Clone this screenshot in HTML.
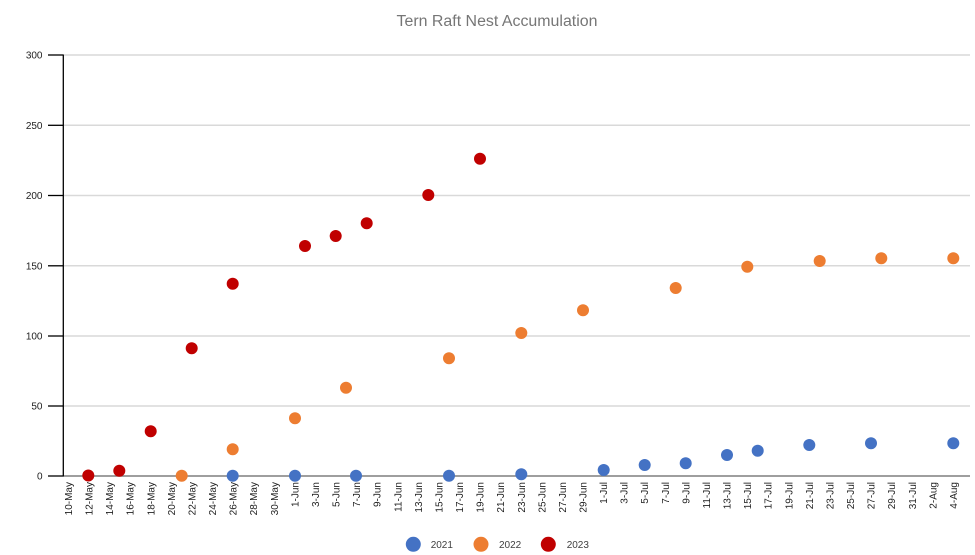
<!DOCTYPE html>
<html>
<head>
<meta charset="utf-8">
<style>
  html,body{margin:0;padding:0;background:#fff;}
  svg{display:block;}
  text{font-family:"Liberation Sans",sans-serif;}
</style>
</head>
<body>
<svg width="975" height="555" viewBox="0 0 975 555" xmlns="http://www.w3.org/2000/svg">
  <rect width="975" height="555" fill="#fff"/>
  <!-- title -->
  <text x="497" y="26" font-size="15.5" fill="#767676" text-anchor="middle" textLength="201" lengthAdjust="spacingAndGlyphs">Tern Raft Nest Accumulation</text>

  <!-- gridlines -->
  <g stroke="#d9d9d9" stroke-width="1.5">
    <line x1="63" y1="55" x2="970" y2="55"/>
    <line x1="63" y1="125.3" x2="970" y2="125.3"/>
    <line x1="63" y1="195.5" x2="970" y2="195.5"/>
    <line x1="63" y1="265.8" x2="970" y2="265.8"/>
    <line x1="63" y1="336" x2="970" y2="336"/>
    <line x1="63" y1="406" x2="970" y2="406"/>
  </g>
  <!-- x axis -->
  <line x1="63" y1="476" x2="970" y2="476" stroke="#7f7f7f" stroke-width="1.5"/>
  <!-- y axis -->
  <line x1="63.3" y1="54.5" x2="63.3" y2="476.5" stroke="#000" stroke-width="1.3"/>
  <g stroke="#000" stroke-width="1.3">
    <line x1="48" y1="55" x2="63" y2="55"/>
    <line x1="48" y1="125.3" x2="63" y2="125.3"/>
    <line x1="48" y1="195.5" x2="63" y2="195.5"/>
    <line x1="48" y1="265.8" x2="63" y2="265.8"/>
    <line x1="48" y1="336" x2="63" y2="336"/>
    <line x1="48" y1="406" x2="63" y2="406"/>
    <line x1="48" y1="476" x2="63" y2="476"/>
  </g>
  <g font-size="10" fill="#222" text-anchor="end">
    <text x="42.5" y="58.5">300</text>
    <text x="42.5" y="128.8">250</text>
    <text x="42.5" y="199">200</text>
    <text x="42.5" y="269.3">150</text>
    <text x="42.5" y="339.5">100</text>
    <text x="42.5" y="409.5">50</text>
    <text x="42.5" y="479.5">0</text>
  </g>

  <!-- x labels -->
  <g font-size="10" fill="#222" text-anchor="end">
    <text transform="translate(68.5,482) rotate(-90)" dy="0.35em">10-May</text>
    <text transform="translate(89.1,482) rotate(-90)" dy="0.35em">12-May</text>
    <text transform="translate(109.7,482) rotate(-90)" dy="0.35em">14-May</text>
    <text transform="translate(130.2,482) rotate(-90)" dy="0.35em">16-May</text>
    <text transform="translate(150.8,482) rotate(-90)" dy="0.35em">18-May</text>
    <text transform="translate(171.4,482) rotate(-90)" dy="0.35em">20-May</text>
    <text transform="translate(192.0,482) rotate(-90)" dy="0.35em">22-May</text>
    <text transform="translate(212.6,482) rotate(-90)" dy="0.35em">24-May</text>
    <text transform="translate(233.1,482) rotate(-90)" dy="0.35em">26-May</text>
    <text transform="translate(253.7,482) rotate(-90)" dy="0.35em">28-May</text>
    <text transform="translate(274.3,482) rotate(-90)" dy="0.35em">30-May</text>
    <text transform="translate(294.9,482) rotate(-90)" dy="0.35em">1-Jun</text>
    <text transform="translate(315.5,482) rotate(-90)" dy="0.35em">3-Jun</text>
    <text transform="translate(336.0,482) rotate(-90)" dy="0.35em">5-Jun</text>
    <text transform="translate(356.6,482) rotate(-90)" dy="0.35em">7-Jun</text>
    <text transform="translate(377.2,482) rotate(-90)" dy="0.35em">9-Jun</text>
    <text transform="translate(397.8,482) rotate(-90)" dy="0.35em">11-Jun</text>
    <text transform="translate(418.4,482) rotate(-90)" dy="0.35em">13-Jun</text>
    <text transform="translate(438.9,482) rotate(-90)" dy="0.35em">15-Jun</text>
    <text transform="translate(459.5,482) rotate(-90)" dy="0.35em">17-Jun</text>
    <text transform="translate(480.1,482) rotate(-90)" dy="0.35em">19-Jun</text>
    <text transform="translate(500.7,482) rotate(-90)" dy="0.35em">21-Jun</text>
    <text transform="translate(521.3,482) rotate(-90)" dy="0.35em">23-Jun</text>
    <text transform="translate(541.8,482) rotate(-90)" dy="0.35em">25-Jun</text>
    <text transform="translate(562.4,482) rotate(-90)" dy="0.35em">27-Jun</text>
    <text transform="translate(583.0,482) rotate(-90)" dy="0.35em">29-Jun</text>
    <text transform="translate(603.6,482) rotate(-90)" dy="0.35em">1-Jul</text>
    <text transform="translate(624.2,482) rotate(-90)" dy="0.35em">3-Jul</text>
    <text transform="translate(644.7,482) rotate(-90)" dy="0.35em">5-Jul</text>
    <text transform="translate(665.3,482) rotate(-90)" dy="0.35em">7-Jul</text>
    <text transform="translate(685.9,482) rotate(-90)" dy="0.35em">9-Jul</text>
    <text transform="translate(706.5,482) rotate(-90)" dy="0.35em">11-Jul</text>
    <text transform="translate(727.1,482) rotate(-90)" dy="0.35em">13-Jul</text>
    <text transform="translate(747.6,482) rotate(-90)" dy="0.35em">15-Jul</text>
    <text transform="translate(768.2,482) rotate(-90)" dy="0.35em">17-Jul</text>
    <text transform="translate(788.8,482) rotate(-90)" dy="0.35em">19-Jul</text>
    <text transform="translate(809.4,482) rotate(-90)" dy="0.35em">21-Jul</text>
    <text transform="translate(830.0,482) rotate(-90)" dy="0.35em">23-Jul</text>
    <text transform="translate(850.5,482) rotate(-90)" dy="0.35em">25-Jul</text>
    <text transform="translate(871.1,482) rotate(-90)" dy="0.35em">27-Jul</text>
    <text transform="translate(891.7,482) rotate(-90)" dy="0.35em">29-Jul</text>
    <text transform="translate(912.3,482) rotate(-90)" dy="0.35em">31-Jul</text>
    <text transform="translate(932.9,482) rotate(-90)" dy="0.35em">2-Aug</text>
    <text transform="translate(953.4,482) rotate(-90)" dy="0.35em">4-Aug</text>
  </g>

  <!-- 2021 blue -->
  <g fill="#4472c4">
    <circle cx="232.7" cy="475.7" r="6"/>
    <circle cx="295" cy="475.7" r="6"/>
    <circle cx="356" cy="475.7" r="6"/>
    <circle cx="449" cy="475.7" r="6"/>
    <circle cx="521.3" cy="474.3" r="6"/>
    <circle cx="603.7" cy="470" r="6"/>
    <circle cx="644.7" cy="465" r="6"/>
    <circle cx="685.7" cy="463.3" r="6"/>
    <circle cx="727" cy="455" r="6"/>
    <circle cx="757.7" cy="450.7" r="6"/>
    <circle cx="809.3" cy="445" r="6"/>
    <circle cx="871" cy="443.3" r="6"/>
    <circle cx="953.3" cy="443.3" r="6"/>
  </g>
  <!-- 2022 orange -->
  <g fill="#ed7d31">
    <circle cx="181.7" cy="475.7" r="6"/>
    <circle cx="232.7" cy="449.3" r="6"/>
    <circle cx="295" cy="418.3" r="6"/>
    <circle cx="346" cy="387.7" r="6"/>
    <circle cx="449" cy="358.3" r="6"/>
    <circle cx="521.3" cy="333" r="6"/>
    <circle cx="583" cy="310.3" r="6"/>
    <circle cx="675.7" cy="288" r="6"/>
    <circle cx="747.3" cy="266.7" r="6"/>
    <circle cx="819.7" cy="261" r="6"/>
    <circle cx="881.3" cy="258.3" r="6"/>
    <circle cx="953.3" cy="258.3" r="6"/>
  </g>
  <!-- 2023 red -->
  <g fill="#c00000">
    <circle cx="88.3" cy="475.5" r="6"/>
    <circle cx="119.3" cy="470.7" r="6"/>
    <circle cx="150.7" cy="431.3" r="6"/>
    <circle cx="191.7" cy="348.3" r="6"/>
    <circle cx="232.7" cy="283.7" r="6"/>
    <circle cx="305" cy="246" r="6"/>
    <circle cx="335.7" cy="236" r="6"/>
    <circle cx="366.7" cy="223.3" r="6"/>
    <circle cx="428.3" cy="195" r="6"/>
    <circle cx="480" cy="158.7" r="6"/>
  </g>

  <!-- legend -->
  <circle cx="413.3" cy="544.3" r="7.5" fill="#4472c4"/>
  <text x="430.7" y="548" font-size="10" fill="#404040">2021</text>
  <circle cx="481" cy="544.3" r="7.5" fill="#ed7d31"/>
  <text x="499" y="548" font-size="10" fill="#404040">2022</text>
  <circle cx="548.3" cy="544.3" r="7.5" fill="#c00000"/>
  <text x="566.7" y="548" font-size="10" fill="#404040">2023</text>
</svg>
</body>
</html>
